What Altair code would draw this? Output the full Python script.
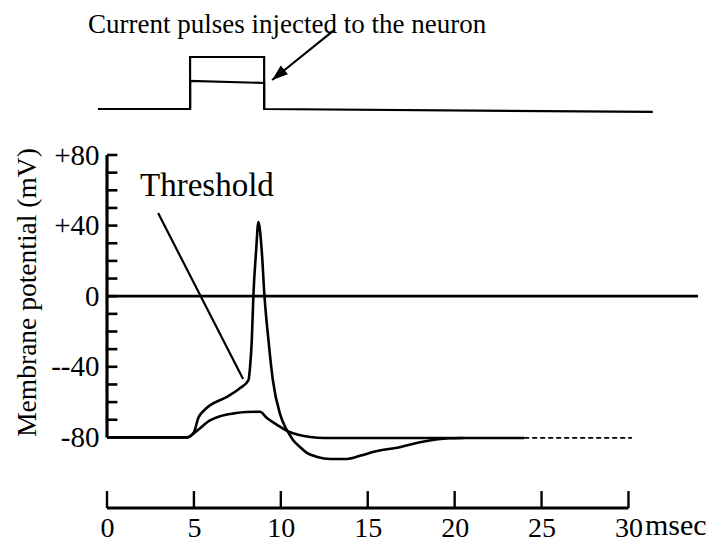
import altair as alt
import pandas as pd

SERIF = "Liberation Serif"

# ---- membrane potential traces (time in msec, potential in mV) ----
sub_t = [0, 4.6, 5.2, 5.9, 6.5, 7.3, 8.0, 8.8, 9.2, 9.8, 10.4, 11.0, 11.7, 12.5, 18.0, 24.0]
sub_v = [-80, -80, -76, -70.5, -68, -66.4, -65.6, -65.5, -69, -73, -76.5, -78.5, -79.8, -80.3, -80.3, -80.3]
tail_t = [24.0, 30.2]
tail_v = [-80.3, -80.3]

spike_t = [0, 4.6, 5.0, 5.25, 5.6, 5.93, 6.9, 7.66, 8.14, 8.23, 8.33, 8.42, 8.58, 8.71, 8.9,
           9.06, 9.29, 9.54, 9.96, 10.25, 10.42, 10.7, 11.1, 11.5, 12.1, 12.84, 13.8, 14.6,
           15.3, 16.9, 18.0, 19.7, 20.5]
spike_v = [-80, -80, -77, -69, -64.5, -61.8, -57, -52, -47.5, -40, -25, 0, 26, 42, 26,
           0, -25, -47.5, -67, -74.1, -77, -81.5, -85.4, -88.8, -91.1, -92.2, -92.2, -90.3,
           -88.3, -85.4, -82.8, -80.5, -80.3]

zero_t = [0, 34]
zero_v = [0, 0]

threshold_t = [2.94, 7.83]
threshold_v = [47.1, -46.9]
threshold_label = "Threshold"
threshold_label_t = 1.9
threshold_label_v = 56.8

# ---- axes ----
x_tick_values = [0, 5, 10, 15, 20, 25, 30]
x_unit_label = "msec"
y_minor_ticks = [-80, -70, -60, -50, -40, -30, -20, -10, 0, 10, 20, 30, 40, 50, 60, 70, 80]
y_label_values = [80, 40, 0, -40, -80]
y_label_texts = ["+80", "+40", "0", "--40", "-80"]
y_title = "Membrane potential (mV)"

# ---- injected current pulses (arbitrary units) ----
pulse_large_t = [-0.52, 4.78, 4.78, 9.04, 9.04, 31.4]
pulse_large_i = [0, 0, 2, 2, 0, -0.11]
pulse_small_t = [4.78, 4.78, 9.04, 9.04]
pulse_small_i = [0, 1.08, 1.0, 0]
pulse_title = "Current pulses injected to the neuron"
pulse_title_t = 10.36
pulse_title_i = 2.92
arrow_t = [13.1, 9.5]
arrow_i = [3.05, 1.115]

# ---------------------------------------------------------------
XS = alt.Scale(domain=[0, 34], nice=False, zero=False)
YS = alt.Scale(domain=[-120, 80], nice=False, zero=False)
PS = alt.Scale(domain=[0, 2], range=[-46, -98], nice=False, zero=False)

label_expr = " : ".join(
    f"datum.value == {v} ? '{s}'" for v, s in zip(y_label_values, y_label_texts)
) + " : ''"

XA = alt.Axis(values=x_tick_values, labelFont=SERIF, labelFontSize=28, labelColor="black",
              domain=False, ticks=False, tickSize=0, grid=False, labelPadding=6,
              labelFlush=False, labelOverlap=False, title=None)
YA = alt.Axis(values=y_label_values, labelExpr=label_expr, labelFont=SERIF, labelFontSize=29,
              labelColor="black", domain=False, ticks=False, tickSize=0, grid=False,
              labelPadding=8, labelFlush=False, labelOverlap=False, labelBaseline="middle",
              title=y_title, titleFont=SERIF, titleFontSize=27.5, titleFontWeight="normal",
              titleColor="black", titleAngle=270, titleX=-80, titleY=137,
              titleAlign="center", titleBaseline="middle")


def X(f):
    return alt.X(f, type="quantitative", scale=XS, axis=XA)


def Y(f):
    return alt.Y(f, type="quantitative", scale=YS, axis=YA)


def YP(f):
    return alt.Y(f, type="quantitative", scale=PS, axis=None)


LW = 2.6

zero_df = pd.DataFrame({"t": zero_t, "v": zero_v})
sub_df = pd.DataFrame({"t": sub_t, "v": sub_v})
tail_df = pd.DataFrame({"t": tail_t, "v": tail_v})
spike_df = pd.DataFrame({"t": spike_t, "v": spike_v})
thr_df = pd.DataFrame({"t": threshold_t, "v": threshold_v})
thr_lab = pd.DataFrame({"t": [threshold_label_t], "v": [threshold_label_v], "s": [threshold_label]})

yline_df = pd.DataFrame({"t": [0], "v": [y_minor_ticks[0]], "v2": [y_minor_ticks[-1]]})
ytick_df = pd.DataFrame({"t": [0] * len(y_minor_ticks), "t2": [0.6] * len(y_minor_ticks),
                         "v": y_minor_ticks})
xline_df = pd.DataFrame({"t": [x_tick_values[0]], "t2": [x_tick_values[-1]], "v": [-120]})
xtick_df = pd.DataFrame({"t": x_tick_values, "v": [-120] * len(x_tick_values),
                         "v2": [-110.4] * len(x_tick_values)})
unit_df = pd.DataFrame({"t": [30.95], "v": [-135.3], "s": [x_unit_label]})

zero_line = alt.Chart(zero_df).mark_line(color="black", strokeWidth=2.8).encode(x=X("t"), y=Y("v"))
sub_line = alt.Chart(sub_df).mark_line(color="black", strokeWidth=LW, interpolate="monotone").encode(
    x=X("t"), y=Y("v"))
tail_line = alt.Chart(tail_df).mark_line(color="black", strokeWidth=1.7, strokeDash=[5, 3]).encode(
    x=X("t"), y=Y("v"))
spike_line = alt.Chart(spike_df).mark_line(color="black", strokeWidth=LW, interpolate="monotone").encode(
    x=X("t"), y=Y("v"))
thr_line = alt.Chart(thr_df).mark_line(color="black", strokeWidth=2.2).encode(x=X("t"), y=Y("v"))
thr_text = alt.Chart(thr_lab).mark_text(font=SERIF, fontSize=33, align="left", baseline="alphabetic",
                                        color="black").encode(x=X("t"), y=Y("v"), text="s:N")
y_line = alt.Chart(yline_df).mark_rule(color="black", strokeWidth=3.2).encode(
    x=X("t"), y=Y("v"), y2="v2:Q")
y_ticks = alt.Chart(ytick_df).mark_rule(color="black", strokeWidth=2.6).encode(
    x=X("t"), x2="t2:Q", y=Y("v"))
x_line = alt.Chart(xline_df).mark_rule(color="black", strokeWidth=2.8).encode(
    x=X("t"), x2="t2:Q", y=Y("v"))
x_ticks = alt.Chart(xtick_df).mark_rule(color="black", strokeWidth=2.4).encode(
    x=X("t"), y=Y("v"), y2="v2:Q")
unit_text = alt.Chart(unit_df).mark_text(font=SERIF, fontSize=30, align="left", baseline="alphabetic",
                                         color="black").encode(x=X("t"), y=Y("v"), text="s:N")

mv = alt.layer(zero_line, sub_line, tail_line, spike_line, thr_line, thr_text,
               y_line, y_ticks, x_line, x_ticks, unit_text)

pl_df = pd.DataFrame({"t": pulse_large_t, "i": pulse_large_i, "o": list(range(len(pulse_large_t)))})
ps_df = pd.DataFrame({"t": pulse_small_t, "i": pulse_small_i, "o": list(range(len(pulse_small_t)))})
arrow_df = pd.DataFrame({"t": arrow_t, "i": arrow_i, "o": [0, 1]})
head_df = pd.DataFrame({"t": [arrow_t[-1]], "i": [arrow_i[-1]]})
ptitle_df = pd.DataFrame({"t": [pulse_title_t], "i": [pulse_title_i], "s": [pulse_title]})

p_large = alt.Chart(pl_df).mark_line(color="black", strokeWidth=2.2).encode(
    x=X("t"), y=YP("i"), order="o:Q")
p_small = alt.Chart(ps_df).mark_line(color="black", strokeWidth=2.2).encode(
    x=X("t"), y=YP("i"), order="o:Q")
p_arrow = alt.Chart(arrow_df).mark_line(color="black", strokeWidth=2.2).encode(
    x=X("t"), y=YP("i"), order="o:Q")
p_head = alt.Chart(head_df).mark_point(shape="M0,0L-0.36,1L0.36,1Z", size=1000, filled=True,
                                       color="black", opacity=1, angle=230.5).encode(
    x=X("t"), y=YP("i"))
p_title = alt.Chart(ptitle_df).mark_text(font=SERIF, fontSize=27, align="center", baseline="alphabetic",
                                         color="black").encode(x=X("t"), y=YP("i"), text="s:N")

pulse = alt.layer(p_large, p_small, p_arrow, p_head, p_title)

chart = alt.layer(mv, pulse).resolve_scale(y="independent").properties(
    width=591, height=353,
    autosize=alt.AutoSizeParams(type="none"),
    padding={"left": 99, "top": 147, "right": 13, "bottom": 34},
    background="white",
).configure_view(stroke=None).configure_axis(
    labelFont=SERIF, titleFont=SERIF, labelColor="black", titleColor="black"
).configure_text(font=SERIF)

chart.save("out.html", embed_options={"renderer": "svg", "actions": False})
